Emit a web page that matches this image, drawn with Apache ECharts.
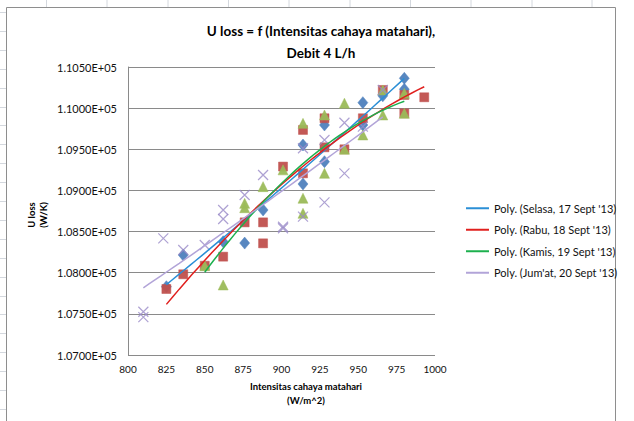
<!DOCTYPE html>
<html>
<head>
<meta charset="utf-8">
<script src="https://cdn.jsdelivr.net/npm/echarts@6/dist/echarts.min.js"></script>
<style>
html,body{margin:0;padding:0;background:#fff;}
#c{width:634px;height:421px;}
</style>
</head>
<body>
<div id="c"></div>
<script>
// ---- data (x: W/m^2, y: U loss W/K) ----
const selasa = [[825,107830],[836,108215],[862,108377],[876,108360],[888,108762],[914,109078],[914,109552],[928,109349],[928,109795],[953,109795],[953,110067],[966,110150],[980,110230],[980,110363]];
const rabu = [[825,107802],[836,107981],[850,108085],[862,108195],[876,108612],[888,108612],[888,108357],[901,109290],[914,109208],[914,109735],[928,109524],[928,109877],[941,109500],[953,109877],[966,110221],[980,110160],[980,109937],[993,110132]];
const kamis = [[850,108085],[862,107851],[876,108843],[876,108790],[888,109046],[901,109250],[914,108905],[914,108722],[914,109815],[928,109208],[928,109917],[941,110060],[941,109500],[953,109674],[966,110221],[966,109917],[980,110180],[980,109937]];
const jumat = [[810,107526],[810,107460],[823,108418],[836,108276],[850,108337],[862,108762],[862,108653],[876,108945],[888,109188],[901,108559],[901,108540],[914,109512],[914,108681],[928,109613],[928,108855],[941,109823],[941,109208],[953,109775],[966,110221]];
const trendNames = ["Poly. (Selasa, 17 Sept '13)","Poly. (Rabu, 18 Sept '13)","Poly. (Kamis, 19 Sept '13)","Poly. (Jum'at, 20 Sept '13)"];
const titleLines = ["U loss = f (Intensitas cahaya matahari),","Debit 4 L/h"];
const xAxisTitle = ["Intensitas cahaya matahari","(W/m^2)"];
const yAxisTitle = ["U loss","(W/K)"];
const xMin = 800, xMax = 1000, xStep = 25;
const yMin = 107000, yMax = 110500, yStep = 500;

// quadratic least-squares trendline (as Excel "Poly." order 2)
function polyfit2(pts){
  const c = 900;
  let S=[0,0,0,0,0], T=[0,0,0];
  pts.forEach(([x,y])=>{const u=x-c;let p=1;for(let k=0;k<5;k++){S[k]+=p; if(k<3)T[k]+=p*y; p*=u;}});
  const A=[[S[0],S[1],S[2],T[0]],[S[1],S[2],S[3],T[1]],[S[2],S[3],S[4],T[2]]];
  for(let i=0;i<3;i++){
    let m=i;for(let r=i+1;r<3;r++) if(Math.abs(A[r][i])>Math.abs(A[m][i])) m=r;
    [A[i],A[m]]=[A[m],A[i]];
    for(let r=0;r<3;r++){ if(r===i) continue; const f=A[r][i]/A[i][i]; for(let k=i;k<4;k++) A[r][k]-=f*A[i][k]; }
  }
  const a=A[0][3]/A[0][0], b=A[1][3]/A[1][1], q=A[2][3]/A[2][2];
  const xs=pts.map(p=>p[0]); const lo=Math.min(...xs), hi=Math.max(...xs);
  const out=[]; const n=40;
  for(let i=0;i<=n;i++){const x=lo+(hi-lo)*i/n; const u=x-c; out.push([x,a+b*u+q*u*u]);}
  return out;
}

const FONT = 'Lato, "Open Sans", sans-serif';
const chart = echarts.init(document.getElementById('c'), null, {renderer:'svg'});

const markerCols = ['#4F81BD','#C0504D','#9BBB59','#9A8BC8'];
const lineCols = ['#2B8FD6','#E0201E','#1DB04E','#B2A4D8'];
const sets = [selasa, rabu, kamis, jumat];
const symbols = ['diamond','rect','triangle','path://M0,0L10,10M10,0L0,10'];
const sizes = [[10,12],9,[10,10],10];

const series = [];
sets.forEach((d,i)=>{
  const isX = i===3;
  series.push({
    type:'scatter', name:'pts'+i, data:d, symbol:symbols[i], symbolSize:sizes[i], z:2+i,
    itemStyle: isX ? {color:'rgba(0,0,0,0)', borderColor:markerCols[i], borderWidth:1.2}
                   : {color:markerCols[i], borderColor:markerCols[i], borderWidth:0.5, opacity:0.95},
    emphasis:{disabled:true}, silent:true
  });
});
sets.forEach((d,i)=>{
  series.push({
    type:'line', name:trendNames[i], data:polyfit2(d), symbol:'none', smooth:false, z:10+i,
    lineStyle:{color:lineCols[i], width:1.5}, itemStyle:{color:lineCols[i]}, silent:true
  });
});

// decorative spreadsheet cells and chart-area border
const deco = [];
[46.5,107,168,228.5,289,350,410.5,471,532,592].forEach(x=>deco.push({type:'line',shape:{x1:x,y1:0,x2:x,y2:7},style:{stroke:'#D4D8DE',lineWidth:1},silent:true}));
for(let y=12;y<421;y+=18.9) deco.push({type:'line',shape:{x1:0,y1:Math.round(y)+0.5,x2:6,y2:Math.round(y)+0.5},style:{stroke:'#D4D8DE',lineWidth:1},silent:true});
deco.push({type:'polyline',shape:{points:[[6.5,430],[6.5,7.5],[615.5,7.5],[615.5,430]]},style:{stroke:'#8E8E8E',lineWidth:1,fill:null},silent:true});
deco.push({type:'text',x:321,y:31,style:{text:titleLines[0],font:'bold 13.5px '+FONT,fill:'#000',align:'center',verticalAlign:'middle'},silent:true});
deco.push({type:'text',x:321,y:53,style:{text:titleLines[1],font:'bold 13.5px '+FONT,fill:'#000',align:'center',verticalAlign:'middle'},silent:true});
deco.push({type:'text',x:306,y:386,style:{text:xAxisTitle[0],font:'bold 9.5px '+FONT,fill:'#000',align:'center',verticalAlign:'middle'},silent:true});
deco.push({type:'text',x:306,y:400,style:{text:xAxisTitle[1],font:'bold 9.5px '+FONT,fill:'#000',align:'center',verticalAlign:'middle'},silent:true});
deco.push({type:'text',x:31,y:215,rotation:Math.PI/2,style:{text:yAxisTitle[0],font:'bold 9.5px '+FONT,fill:'#000',align:'center',verticalAlign:'middle'},silent:true});
deco.push({type:'text',x:43,y:215,rotation:Math.PI/2,style:{text:yAxisTitle[1],font:'bold 9.5px '+FONT,fill:'#000',align:'center',verticalAlign:'middle'},silent:true});

chart.setOption({
  backgroundColor:'#fff',
  animation:false,
  grid:{left:128,right:199,top:67,bottom:66,containLabel:false},
  xAxis:{type:'value',min:xMin,max:xMax,interval:xStep,
    axisLine:{show:false},axisTick:{show:false},splitLine:{show:false},
    axisLabel:{fontFamily:FONT,fontSize:10,color:'#111',margin:9,formatter:v=>String(v)}},
  yAxis:{type:'value',min:yMin,max:yMax,interval:yStep,
    axisLine:{show:true,onZero:false,lineStyle:{color:'#8A8A8A',width:1}},axisTick:{show:false},
    splitLine:{show:true,lineStyle:{color:'#8A8A8A',width:1}},
    axisLabel:{fontFamily:FONT,fontSize:11,color:'#111',margin:11,formatter:v=>(v/1e5).toFixed(4)+'E+05'}},
  legend:{data:trendNames,orient:'vertical',left:466,top:202,padding:0,itemWidth:23,itemHeight:2,icon:'rect',itemGap:9,
    textStyle:{fontFamily:FONT,fontSize:11,color:'#111',lineHeight:12.5,padding:[0,0,0,0]},selectedMode:false},
  graphic:deco,
  series:series
});
</script>
</body>
</html>
